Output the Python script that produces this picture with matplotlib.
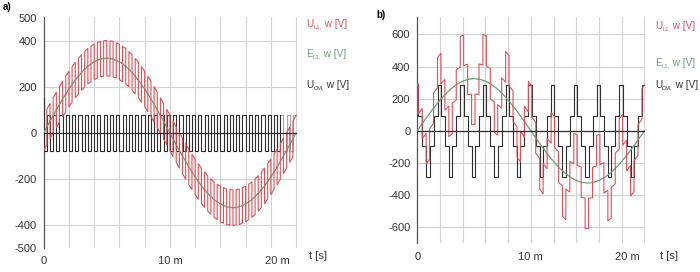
import numpy as np
import matplotlib.pyplot as plt

plt.rcParams['font.family'] = ['Liberation Sans', 'DejaVu Sans']

# Data (time in ms, voltages in V)

# EMF of phase L1, sampled every 0.5 ms (same in both panels)
e_time = np.linspace(0, 20, 41)
e_l1 = [0, 51, 100, 148, 191, 230, 263, 290, 309, 321,
        325, 321, 309, 290, 263, 230, 191, 148, 100, 51,
        0, -51, -100, -148, -191, -230, -263, -290, -309, -321,
        -325, -321, -309, -290, -263, -230, -191, -148, -100, -51, 0]

# a) common-mode voltage: two-level square wave, 0.5 ms period
cm_a_period = 0.5
cm_a_edges = [0.0, 0.25]
cm_a_levels = [-77, 77]
cm_a_spike = 150          # start-up value at t = 0
cm_a_dark_until = 18.75   # after this the trace is drawn pale

# b) common-mode voltage: staircase, 2 ms period
cm_b_period = 2.0
cm_b_edges = [0.08, 0.43, 0.78, 1.08, 1.43, 1.78]
cm_b_levels = [95, -95, -285, -95, 95, 285]
cm_b_first = 285

x_tick_pos = [0, 10, 18.5]
x_tick_labels = ['0', '10 m', '20 m']
legend_names = [('U', 'L1,', ' w [V]'), ('E', 'L1,', ' w [V]'), ('U', 'CM,', ' w [V]')]

t_end = 20.0

RED = '#d9545c'
GREEN = '#6a9f78'
DARK = '#2e2e2e'
GRID = '#d2d2d2'
TXT = '#333333'
FS = 8
FS_LEG = 7.2


# Build step segments (start, end, level) from one period of switching
def step_segments(edges, levels, period, first=None):
    starts, lev = [], []
    for k in range(int(t_end / period) + 1):
        for e, l in zip(edges, levels):
            starts.append(k * period + e)
            lev.append(l)
    starts = np.array(starts)
    lev = np.array(lev)
    if first is not None and starts[0] > 0:
        starts = np.insert(starts, 0, 0.0)
        lev = np.insert(lev, 0, first)
    ends = np.append(starts[1:], t_end)
    keep = starts < t_end
    return starts[keep], np.minimum(ends[keep], t_end), lev[keep]


def step_xy(starts, ends, lev):
    x = np.column_stack([starts, ends]).ravel()
    y = np.column_stack([lev, lev]).ravel()
    return x, y


# U_L1 = E_L1 + U_CM, drawn segment by segment
def phase_xy(starts, ends, lev):
    e_s = np.interp(starts, e_time, e_l1)
    e_e = np.interp(ends, e_time, e_l1)
    x = np.column_stack([starts, ends]).ravel()
    y = np.column_stack([e_s + lev, e_e + lev]).ravel()
    return x, y


def style_axes(ax, major_y, minor_y):
    for side in ['top', 'right', 'bottom']:
        ax.spines[side].set_visible(False)
    ax.spines['left'].set_color('#555555')
    ax.spines['left'].set_linewidth(0.9)
    ax.set_xlim(0, 20.05)
    ax.xaxis.remove_overlapping_locs = False
    ax.set_xticks(np.arange(2, 20.1, 2))
    ax.set_xticklabels([])
    ax.set_xticks(x_tick_pos, labels=x_tick_labels, minor=True)
    ax.set_yticks(major_y, labels=[str(v) for v in major_y])
    if minor_y:
        ax.set_yticks(minor_y, labels=[str(v) for v in minor_y], minor=True)
    ax.tick_params(which='both', length=0, labelsize=FS, colors=TXT, pad=5)
    ax.tick_params(axis='x', which='both', pad=6)
    ax.grid(True, which='major', color=GRID, linewidth=0.8)
    ax.set_axisbelow(True)
    ax.axhline(0, color=DARK, linewidth=0.9, zorder=5)


def add_labels(x_px, ys_px):
    renderer = fig.canvas.get_renderer()
    colors = [RED, GREEN, TXT]
    for (main, sub, rest), c, y in zip(legend_names, colors, ys_px):
        x = x_px
        for s, size, dy in [(main, FS_LEG, 0), (sub, 4.2, -2.5), (rest, FS_LEG, 0)]:
            t = fig.text(x / 700, 1 - (y - dy) / 272, s, color=c,
                         fontsize=size, va='center')
            x += t.get_window_extent(renderer).width


fig = plt.figure(figsize=(7, 2.72), dpi=100)

# Panel a
ax_a = fig.add_axes([43.7 / 700, 1 - 248 / 272, 253 / 700, 231.3 / 272])
ax_a.set_ylim(-500, 505)
style_axes(ax_a, [-400, -200, 0, 200, 400], [-500, 500])

sa, ea, la = step_segments(cm_a_edges, cm_a_levels, cm_a_period)
xa, ya = step_xy(sa, ea, la)
dark = xa <= cm_a_dark_until
ax_a.plot(np.insert(xa[dark], 0, 0.0), np.insert(ya[dark], 0, cm_a_spike),
          color=DARK, linewidth=0.8, zorder=3)
light = xa >= cm_a_dark_until - 0.25
ax_a.plot(xa[light], ya[light], color='#a8a8a8', linewidth=0.8, zorder=2)
ax_a.plot(e_time, e_l1, color=GREEN, linewidth=0.9, zorder=3)
px, py = phase_xy(sa, ea, la)
ax_a.plot(px, py, color=RED, linewidth=0.8, zorder=4)

# Panel b
ax_b = fig.add_axes([417.3 / 700, 1 - 243.3 / 272, 227.7 / 700, 226.6 / 272])
ax_b.set_ylim(-700, 710)
style_axes(ax_b, [-600, -400, -200, 0, 200, 400, 600], None)

sb, eb, lb = step_segments(cm_b_edges, cm_b_levels, cm_b_period, first=cm_b_first)
xb, yb = step_xy(sb, eb, lb)
ax_b.plot(xb, yb, color=DARK, linewidth=0.8, zorder=3)
ax_b.plot(e_time, e_l1, color=GREEN, linewidth=0.9, zorder=3)
px, py = phase_xy(sb, eb, lb)
ax_b.plot(px, py, color=RED, linewidth=0.8, zorder=4)

# Side labels
add_labels(306, [24, 54, 85])
add_labels(655, [26, 63, 85])
fig.text(309 / 700, 1 - 256 / 272, 't [s]', fontsize=FS, color=TXT, va='center')
fig.text(660 / 700, 1 - 256 / 272, 't [s]', fontsize=FS, color=TXT, va='center')
fig.text(3 / 700, 1 - 7 / 272, 'a)', fontsize=7, fontweight='bold', va='center')
fig.text(376 / 700, 1 - 15 / 272, 'b)', fontsize=7, fontweight='bold', va='center')

fig.savefig('out.png', dpi=100)
